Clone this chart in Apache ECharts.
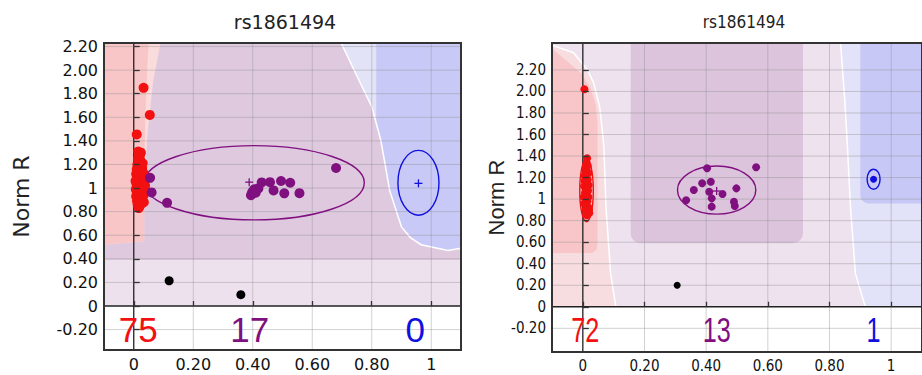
<!DOCTYPE html>
<html>
<head>
<meta charset="utf-8">
<script src="https://cdn.jsdelivr.net/npm/echarts@6/dist/echarts.min.js"></script>
<style>
  html, body { margin: 0; padding: 0; background: #fff; }
  #chart { width: 922px; height: 375px; }
</style>
</head>
<body>
<div id="chart"></div>
<script>
// ---- shared ----
const snpName = 'rs1861494';
const xTicks = [0, 0.2, 0.4, 0.6, 0.8, 1];
const yTicks = [-0.2, 0, 0.2, 0.4, 0.6, 0.8, 1, 1.2, 1.4, 1.6, 1.8, 2, 2.2];
// genotype index: 0 = AA, 1 = AB, 2 = BB

// ---- left plot ----
const leftXRange = [-0.1, 1.1];
const leftYRange = [-0.373, 2.23];
const leftAA = [
  [0.033, 1.85], [0.054, 1.62], [0.010, 1.455], [0.015, 1.31], [0.024, 1.30], [0.020, 1.27],
  [0.012, 1.20], [0.020, 1.19], [0.028, 1.17], [0.010, 1.16], [0.018, 1.15], [0.025, 1.14],
  [0.032, 1.13], [0.008, 1.12], [0.015, 1.11], [0.022, 1.10], [0.030, 1.09], [0.011, 1.08],
  [0.019, 1.07], [0.027, 1.06], [0.036, 1.05], [0.009, 1.04], [0.016, 1.03], [0.024, 1.02],
  [0.031, 1.01], [0.012, 1.00], [0.020, 0.99], [0.028, 0.98], [0.010, 0.97], [0.017, 0.96],
  [0.025, 0.95], [0.033, 0.94], [0.008, 0.93], [0.014, 0.92], [0.022, 0.91], [0.029, 0.90],
  [0.011, 0.89], [0.019, 0.88], [0.026, 0.87], [0.013, 0.86], [0.021, 0.85], [0.017, 0.83],
  [0.023, 1.23], [0.014, 1.25], [0.030, 1.21], [0.035, 1.11], [0.038, 1.02], [0.006, 1.06],
  [0.007, 0.99], [0.034, 0.88], [0.016, 1.13]
];
const leftAB = [
  [0.055, 1.087], [0.060, 0.963], [0.112, 0.875], [0.680, 1.17], [0.394, 0.94], [0.405, 0.99],
  [0.410, 0.96], [0.419, 0.997], [0.430, 1.048], [0.458, 1.05], [0.470, 0.98], [0.495, 1.06],
  [0.506, 0.955], [0.526, 1.045], [0.557, 0.957], [0.398, 0.965]
];
const leftNC = [[0.119, 0.214], [0.360, 0.096]];
const leftEllipses = [[0.014, 1.03, 0.018, 0.22, 0], [0.405, 1.045, 0.37, 0.315, 1], [0.957, 1.045, 0.069, 0.275, 2]];
const leftCenters = [[0.388, 1.05, 1], [0.957, 1.04, 2]];
const leftCounts = [[0.015, -0.195, 75, 0], [0.39, -0.195, 17, 1], [0.946, -0.195, 0, 2]];
const leftNoCallBand = [[-0.1, 0], [1.1, 0], [1.1, 2.23], [-0.1, 2.23]];
const leftABRegion = [[-0.1, 0.39], [1.1, 0.39], [1.1, 2.23], [-0.1, 2.23]];
const leftAAHalo = [[-0.1, 0.52], [0.035, 0.55], [0.035, 1.0], [0.046, 1.45], [0.065, 1.9], [0.09, 2.23], [-0.1, 2.23]];
const leftAARegion = [[-0.1, 0.52], [0.035, 0.55], [0.035, 1.0], [0.038, 1.5], [0.045, 2.0], [0.05, 2.23], [-0.1, 2.23]];
const leftBBEdge = [[0.697, 2.23], [0.75, 1.95], [0.80, 1.69], [0.83, 1.41], [0.845, 1.2], [0.86, 0.98],
  [0.90, 0.67], [0.93, 0.58], [0.966, 0.52], [1.056, 0.47], [1.1, 0.49]];
const leftBBRegion = [[0.815, 2.23], [0.815, 1.5], [0.83, 1.41], [0.845, 1.2], [0.86, 0.98],
  [0.90, 0.67], [0.93, 0.58], [0.966, 0.52], [1.056, 0.47], [1.1, 0.49], [1.1, 2.23]];

// ---- right plot ----
const rightXRange = [-0.1, 1.1];
const rightYRange = [-0.42, 2.45];
const rightAA = [
  [0.005, 2.02],
  [0.014, 1.38], [0.012, 1.34], [0.016, 1.31], [0.008, 1.28], [0.013, 1.26], [0.018, 1.24],
  [0.006, 1.22], [0.011, 1.20], [0.016, 1.18], [0.009, 1.16], [0.014, 1.14], [0.004, 1.12],
  [0.012, 1.10], [0.017, 1.08], [0.007, 1.06], [0.013, 1.04], [0.018, 1.02], [0.010, 1.00],
  [0.015, 0.98], [0.005, 0.96], [0.012, 0.94], [0.019, 0.92], [0.009, 0.90], [0.016, 0.88],
  [0.021, 0.87], [0.013, 0.85], [0.020, 0.90], [0.003, 1.02], [0.019, 1.13], [0.006, 1.17]
];
const rightAB = [
  [0.403, 1.286], [0.562, 1.296], [0.387, 1.147], [0.415, 1.162], [0.360, 1.085], [0.410, 1.069],
  [0.453, 1.047], [0.498, 1.10], [0.335, 0.99], [0.418, 1.007], [0.490, 0.975], [0.493, 0.936],
  [0.418, 0.93]
];
const rightBB = [[0.943, 1.184]];
const rightNC = [[0.306, 0.20]];
const rightEllipses = [[0.012, 1.08, 0.022, 0.29, 0], [0.434, 1.084, 0.127, 0.223, 1], [0.943, 1.184, 0.021, 0.093, 2]];
const rightCenters = [[0.434, 1.075, 1]];
const rightCounts = [[0.008, -0.215, 72, 0], [0.434, -0.215, 13, 1], [0.943, -0.215, 1, 2]];
const rightNoCallBand = [[-0.1, 0], [1.1, 0], [1.1, 2.45], [-0.1, 2.45]];
const rightAAEdge = [[0.107, 0], [0.09, 0.31], [0.075, 0.93], [0.068, 1.5], [0.055, 1.85], [0.035, 2.08],
  [0.015, 2.2], [-0.03, 2.36], [-0.1, 2.43]];
const rightAARegion = [[-0.1, 0.5], [0.03, 0.5], [0.045, 0.53], [0.048, 0.6], [0.048, 1.7], [0.042, 1.88],
  [0.025, 2.03], [-0.005, 2.17], [-0.1, 2.40]];
const rightABBox = [0.155, 0.714, 0.59, 2.45];
const rightBBEdge = [[0.836, 2.45], [0.85, 1.9], [0.857, 1.55], [0.868, 0.93], [0.884, 0.31], [0.916, 0]];
const rightBBBox = [0.90, 1.1, 0.96, 2.45];

const genoColors = ['#f21010', '#80107f', '#1010e0'];
const narrow = 'DejaVu Sans Condensed, Liberation Sans, sans-serif';
const fmt = v => (v === 0 || v === 1) ? String(v) : v.toFixed(2);

function regionSeries(idx, layers) {
  return {
    type: 'custom', xAxisIndex: idx, yAxisIndex: idx, z: 1, silent: true, clip: true,
    data: layers.map((l, i) => [0.5, 1, i]),
    renderItem(params, api) {
      const l = layers[api.value(2)];
      if (l.box) {
        const a = api.coord([l.box[0], l.box[3]]);
        const b = api.coord([l.box[1], l.box[2]]);
        return {type: 'rect', shape: {x: a[0], y: a[1], width: b[0] - a[0], height: b[1] - a[1], r: l.r},
          style: {fill: l.fill}};
      }
      const pts = l.pts.map(p => api.coord(p));
      if (l.line) {
        return {type: 'polyline', shape: {points: pts}, style: {fill: 'none', stroke: l.line, lineWidth: 1.5}};
      }
      return {type: 'polygon', shape: {points: pts}, style: {fill: l.fill}};
    }
  };
}

function gridSeries(idx, xr, yr) {
  return {
    type: 'custom', xAxisIndex: idx, yAxisIndex: idx, z: 2, silent: true,
    data: [[xr[0], yr[0]]],
    renderItem(params, api) {
      const kids = [];
      xTicks.forEach(t => {
        const a = api.coord([t, yr[0]]), b = api.coord([t, yr[1]]);
        kids.push({type: 'line', shape: {x1: a[0], y1: a[1], x2: b[0], y2: b[1]},
          style: {stroke: t === 0 ? '#222' : 'rgba(140,140,140,0.4)', lineWidth: t === 0 ? 1.3 : 1}});
      });
      yTicks.forEach(t => {
        const a = api.coord([xr[0], t]), b = api.coord([xr[1], t]);
        kids.push({type: 'line', shape: {x1: a[0], y1: a[1], x2: b[0], y2: b[1]},
          style: {stroke: t === 0 ? '#222' : 'rgba(140,140,140,0.4)', lineWidth: t === 0 ? 1.5 : 1}});
      });
      const tl = api.coord([xr[0], yr[1]]), br = api.coord([xr[1], yr[0]]);
      kids.push({type: 'rect', shape: {x: tl[0], y: tl[1], width: br[0] - tl[0], height: br[1] - tl[1]},
        style: {fill: 'none', stroke: '#333', lineWidth: 2}});
      return {type: 'group', children: kids};
    }
  };
}

function ellipseSeries(idx, data) {
  return {
    type: 'custom', xAxisIndex: idx, yAxisIndex: idx, z: 3, silent: true, data,
    renderItem(params, api) {
      const c = api.coord([api.value(0), api.value(1)]);
      const s = api.size([api.value(2), api.value(3)]);
      return {type: 'ellipse', shape: {cx: c[0], cy: c[1], rx: s[0], ry: s[1]},
        style: {fill: 'none', stroke: genoColors[api.value(4)], lineWidth: 1.4}};
    }
  };
}

function centerSeries(idx, data) {
  return {
    type: 'custom', xAxisIndex: idx, yAxisIndex: idx, z: 3, silent: true, data,
    renderItem(params, api) {
      const c = api.coord([api.value(0), api.value(1)]);
      const st = {stroke: genoColors[api.value(2)], lineWidth: 1.3};
      return {type: 'group', children: [
        {type: 'line', shape: {x1: c[0] - 4, y1: c[1], x2: c[0] + 4, y2: c[1]}, style: st},
        {type: 'line', shape: {x1: c[0], y1: c[1] - 4, x2: c[0], y2: c[1] + 4}, style: st}
      ]};
    }
  };
}

function countSeries(idx, data, size, squeeze) {
  return {
    type: 'custom', xAxisIndex: idx, yAxisIndex: idx, z: 5, silent: true, data,
    renderItem(params, api) {
      const c = api.coord([api.value(0), api.value(1)]);
      return {type: 'text', x: c[0], y: c[1], scaleX: squeeze,
        style: {text: String(api.value(2)), fill: genoColors[api.value(3)], fontFamily: 'Liberation Sans',
          fontSize: size, align: 'center', verticalAlign: 'middle'}};
    }
  };
}

function dots(idx, data, color, size) {
  return {type: 'scatter', xAxisIndex: idx, yAxisIndex: idx, z: 4, silent: true, data,
    symbolSize: size, itemStyle: {color, opacity: 1}};
}

function xAxisOf(idx, range, family, size) {
  return {
    gridIndex: idx, type: 'value', min: range[0], max: range[1], z: 10,
    axisLine: {show: false}, splitLine: {show: false},
    axisTick: {show: true, inside: true, length: 5, customValues: xTicks, lineStyle: {color: '#333', width: 1.3}},
    axisLabel: {customValues: xTicks, formatter: fmt, fontFamily: family, fontSize: size, color: '#111', margin: 6}
  };
}

function yAxisOf(idx, range, family, size, gap, nameFamily) {
  return {
    gridIndex: idx, type: 'value', min: range[0], max: range[1], z: 10,
    name: 'Norm R', nameLocation: 'middle', nameGap: gap,
    nameTextStyle: {fontFamily: nameFamily, fontSize: 22, color: '#222'},
    axisLine: {show: false}, splitLine: {show: false},
    axisTick: {show: true, inside: true, length: 6, customValues: yTicks, lineStyle: {color: '#333', width: 1.3}},
    axisLabel: {customValues: yTicks, formatter: fmt, fontFamily: family, fontSize: size, color: '#111', margin: 6}
  };
}

const chart = echarts.init(document.getElementById('chart'), null, {renderer: 'svg'});
chart.setOption({
  animation: false,
  backgroundColor: '#fff',
  title: [
    {text: snpName, left: 280, top: 7, textAlign: 'center',
      textStyle: {fontFamily: 'DejaVu Sans', fontSize: 19, fontWeight: 'normal', color: '#222'}},
    {text: snpName, left: 739, top: 8, textAlign: 'center',
      textStyle: {fontFamily: narrow, fontSize: 17, fontWeight: 'normal', color: '#222'}}
  ],
  grid: [
    {left: 104, top: 43, width: 357, height: 307},
    {left: 552, top: 43, width: 376, height: 309}
  ],
  xAxis: [
    xAxisOf(0, leftXRange, 'DejaVu Sans', 16),
    xAxisOf(1, rightXRange, narrow, 15)
  ],
  yAxis: [
    yAxisOf(0, leftYRange, 'DejaVu Sans', 16, 72, 'DejaVu Sans'),
    yAxisOf(1, rightYRange, narrow, 15, 42, 'Liberation Sans')
  ],
  series: [
    regionSeries(0, [
      {pts: leftNoCallBand, fill: '#eee1ee'},
      {pts: leftABRegion, fill: '#dfc9df'},
      {pts: leftAAHalo, fill: '#fbdcdc'},
      {pts: leftAARegion, fill: '#f9c6c8'},
      {pts: leftBBEdge.concat([[1.1, 2.23]]), fill: '#e3e3f8'},
      {pts: leftBBRegion, fill: '#c9c9f7'},
      {pts: leftBBEdge, line: '#ffffff'}
    ]),
    gridSeries(0, leftXRange, leftYRange),
    ellipseSeries(0, leftEllipses),
    centerSeries(0, leftCenters),
    dots(0, leftAA, genoColors[0], 10),
    dots(0, leftAB, genoColors[1], 10),
    dots(0, leftNC, '#000', 9),
    countSeries(0, leftCounts, 35, 1),

    regionSeries(1, [
      {pts: rightNoCallBand, fill: '#eee2ee'},
      {pts: [[-0.1, 0]].concat(rightAAEdge), fill: '#f8dde0'},
      {pts: rightAARegion, fill: '#f8c6c9'},
      {box: rightABBox, r: [0, 0, 10, 10], fill: '#dcc5dc'},
      {pts: rightBBEdge.concat([[1.1, 0], [1.1, 2.45]]), fill: '#e2e2f8'},
      {box: rightBBBox, r: [0, 0, 0, 8], fill: '#c8c8f6'},
      {pts: rightAAEdge, line: '#ffffff'},
      {pts: rightBBEdge, line: '#ffffff'}
    ]),
    gridSeries(1, rightXRange, rightYRange),
    ellipseSeries(1, rightEllipses),
    centerSeries(1, rightCenters),
    dots(1, rightAA, genoColors[0], 8),
    dots(1, rightAB, genoColors[1], 8),
    dots(1, rightBB, genoColors[2], 7),
    dots(1, rightNC, '#000', 7),
    countSeries(1, rightCounts, 36, 0.7)
  ]
});
</script>
</body>
</html>
